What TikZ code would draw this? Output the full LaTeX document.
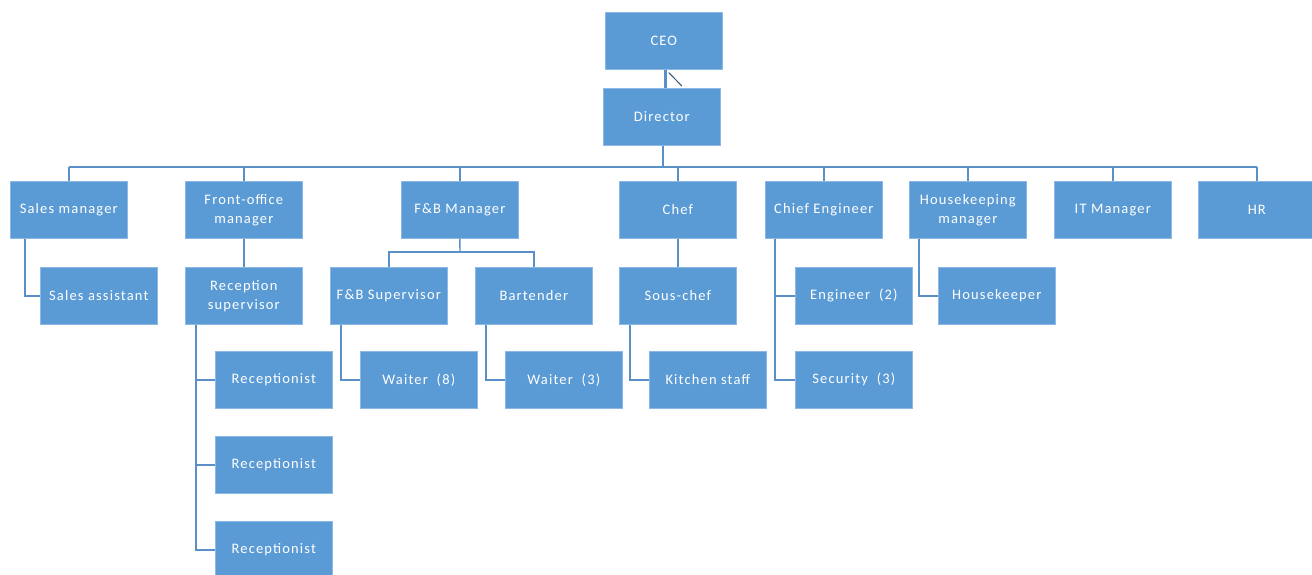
\documentclass[tikz,border=0pt]{standalone}
\usepackage{fontspec}
\newfontfamily\boxfont[LetterSpace=8]{Carlito}
\definecolor{boxblue}{HTML}{5B9BD5}
\definecolor{boxedge}{HTML}{8DB9E6}
\definecolor{linkblue}{HTML}{5A8FC8}
\begin{document}
\begin{tikzpicture}[x=1pt,y=-1pt,
  post/.style={draw=boxedge,line width=0.6pt,fill=boxblue,text=white,
    font=\boxfont\fontsize{14.5}{19}\selectfont,align=center,
    minimum width=117pt,minimum height=57pt,inner sep=0pt,anchor=north west},
  link/.style={draw=linkblue,line width=1.4pt},
  trunk/.style={draw=linkblue,line width=2.4pt}]
\useasboundingbox (0,0) rectangle (1312,575);
\begin{scope}
\clip (0,0) rectangle (1312,575);
% top of the chart
\node[post] (ceo) at (605,12) {CEO};
\node[post] (dir) at (603,88) {Director};
% department heads
\node[post] (sm) at (10,181) {Sales manager};
\node[post] (fo) at (185,181) {Front-office\\manager};
\node[post] (fb) at (401,181) {F\&B Manager};
\node[post] (chef) at (619,181) {Chef};
\node[post] (ce) at (765,181) {Chief Engineer};
\node[post] (hk) at (909,181) {Housekeeping\\manager};
\node[post] (it) at (1054,181) {IT Manager};
\node[post] (hr) at (1198,181) {HR};
% second level
\node[post] (sa) at (40,267) {Sales assistant};
\node[post] (rs) at (185,267) {Reception\\supervisor};
\node[post] (fs) at (330,267) {F\&B Supervisor};
\node[post] (bt) at (475,267) {Bartender};
\node[post] (sc) at (619,267) {Sous-chef};
\node[post] (en) at (795,267) {Engineer\ \ (2)};
\node[post] (hkp) at (938,267) {Housekeeper};
% third level
\node[post] (r1) at (215,351) {Receptionist};
\node[post] (r2) at (215,436) {Receptionist};
\node[post] (r3) at (215,521) {Receptionist};
\node[post] (w8) at (360,351) {Waiter\ \ (8)};
\node[post] (w3) at (505,351) {Waiter\ \ (3)};
\node[post] (ks) at (649,351) {Kitchen staff};
\node[post] (se) at (795,351) {Security\ \ (3)};

% CEO to Director
\coordinate (cd) at ([xshift=1.5pt]ceo.south);
\draw[trunk] (cd) -- (cd |- dir.north);
\draw[draw=linkblue!60!black,line width=1pt] ([xshift=5pt,yshift=-3pt]ceo.south) -- ([xshift=20pt,yshift=2pt]dir.north);
% main bus
\coordinate (bus) at (663,167);
\draw[trunk] (bus |- dir.south) -- (bus);
\draw[link] (sm.north |- bus) -- (hr.north |- bus);
\foreach \n in {sm,fo,fb,chef,ce,hk,it,hr}
  \draw[link] (\n.north |- bus) -- (\n.north);
% sales
\draw[link] ([xshift=15pt]sm.south west) |- (sa.west);
% front office
\draw[link] (fo.south) -- (rs.north);
\draw[link] ([xshift=11pt]rs.south west) |- (r3.west);
\draw[link] ([xshift=11pt]rs.south west |- r1.west) -- (r1.west);
\draw[link] ([xshift=11pt]rs.south west |- r2.west) -- (r2.west);
% food and beverage
\coordinate (fbbus) at (460,252);
\draw[link] (fb.south) -- (fbbus);
\draw[link] (fs.north) |- (fbbus) -| (bt.north);
\draw[link] ([xshift=11pt]fs.south west) |- (w8.west);
\draw[link] ([xshift=11pt]bt.south west) |- (w3.west);
% kitchen
\draw[link] (chef.south) -- (sc.north);
\draw[link] ([xshift=11pt]sc.south west) |- (ks.west);
% engineering
\draw[link] ([xshift=10pt]ce.south west) |- (se.west);
\draw[link] ([xshift=10pt]ce.south west |- en.west) -- (en.west);
% housekeeping
\draw[link] ([xshift=10pt]hk.south west) |- (hkp.west);
\end{scope}
\end{tikzpicture}
\end{document}
